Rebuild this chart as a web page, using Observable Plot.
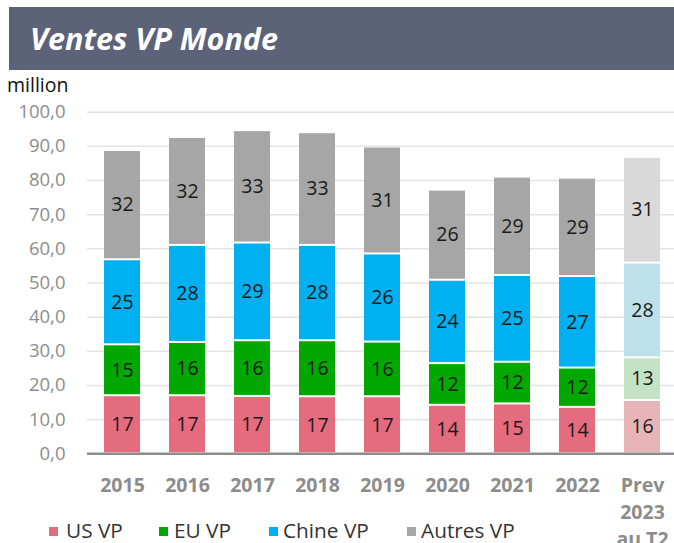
<!DOCTYPE html>
<html>
<head>
<meta charset="utf-8">
<script src="https://cdn.jsdelivr.net/npm/d3@7"></script>
<script src="https://cdn.jsdelivr.net/npm/@observablehq/plot@0.6"></script>
<style>
  body { margin: 0; background: #fff; width: 674px; height: 543px; overflow: hidden; position: relative; font-family: "Open Sans", sans-serif; }
  #title { position: absolute; left: 9px; top: 7px; right: 0; height: 63px; background: #5c6378; }
  #title span { position: absolute; left: 21px; top: 10px; color: #fff; font-weight: 700; font-style: italic; font-size: 30.5px; line-height: normal; white-space: nowrap; }
  #unit { position: absolute; left: 7px; top: 71px; font-size: 19.5px; color: #111; line-height: normal; }
  #chart { position: absolute; left: 0; top: 0; }
  .leg { position: absolute; top: 516px; font-size: 20.8px; color: #333; line-height: normal; white-space: nowrap; }
  .sw { position: absolute; top: 527px; width: 9px; height: 9px; }
</style>
</head>
<body>
<div id="title"><span>Ventes VP Monde</span></div>
<div id="unit">million</div>
<div id="chart"></div>
<div id="legend"></div>
<script>
const years = ["2015", "2016", "2017", "2018", "2019", "2020", "2021", "2022", "Prev\n2023\nau T2"];
const seriesNames = ["US VP", "EU VP", "Chine VP", "Autres VP"];
const usVP     = [17.0, 17.0, 16.8, 16.7, 16.7, 14.2, 14.6, 13.6, 15.6];
const euVP     = [14.9, 15.6, 16.3, 16.4, 16.0, 12.2, 12.2, 11.5, 12.5];
const chineVP  = [24.9, 28.4, 28.6, 27.9, 25.8, 24.4, 25.4, 26.8, 27.7];
const autresVP = [32.0, 31.6, 32.9, 33.0, 31.3, 26.4, 28.8, 28.8, 31.0];
const yTicks = [0, 10, 20, 30, 40, 50, 60, 70, 80, 90, 100];

const colors     = ["#e46c7e", "#00a800", "#00b0f0", "#a6a6a6"];
const colorsPrev = ["#e8b4b8", "#c4e3c4", "#bee0ea", "#d9d9d9"];

const seriesValues = [usVP, euVP, chineVP, autresVP];
const rows = [];
years.forEach((yr, i) => {
  seriesValues.forEach((arr, s) => {
    rows.push({ year: yr, series: seriesNames[s], value: arr[i],
      fill: (i === years.length - 1 ? colorsPrev : colors)[s] });
  });
});

const chart = Plot.plot({
  width: 674,
  height: 543,
  marginTop: 111.7,
  marginBottom: 89.7,
  marginLeft: 87,
  marginRight: 0,
  style: { fontFamily: "'Open Sans', sans-serif", background: "transparent", overflow: "visible" },
  x: { domain: years, range: [86.6, 678.6], paddingInner: 0.44, paddingOuter: 0.22, align: 0.5 },
  y: { domain: [0, 100] },
  color: { type: "identity" },
  marks: [
    Plot.gridY(yTicks, { stroke: "#e3e3e3", strokeOpacity: 1, strokeWidth: 1.5 }),
    Plot.barY(rows, Plot.stackY({ x: "year", y: "value", z: "series", order: seriesNames, fill: "fill", insetTop: 1, insetBottom: 1 })),
    Plot.text(rows, Plot.stackY({ x: "year", y: "value", z: "series", order: seriesNames,
      text: d => String(Math.round(d.value)), fill: "#1a1a1a", fontSize: 19.5 })),
    Plot.ruleY([0], { stroke: "#8c8c8c", strokeWidth: 2.5 }),
    Plot.axisY(yTicks, { tickSize: 0, tickPadding: 22, tickFormat: d => d.toFixed(1).replace(".", ","),
      fontSize: 18.5, color: "#8c8c8c", label: null }),
    Plot.axisX({ tickSize: 0, tickPadding: 19, fontSize: 19.5, fontWeight: 700, color: "#8c8c8c",
      lineHeight: 1.38, label: null })
  ]
});
document.getElementById("chart").appendChild(chart);

// legend
const legendSwatchX = [49, 159, 269, 407];
const legendTextX = [66, 174, 283, 421];
const legend = document.getElementById("legend");
seriesNames.forEach((name, i) => {
  const sw = document.createElement("div");
  sw.className = "sw";
  sw.style.left = legendSwatchX[i] + "px";
  sw.style.background = colors[i];
  legend.appendChild(sw);
  const t = document.createElement("div");
  t.className = "leg";
  t.style.left = legendTextX[i] + "px";
  t.textContent = name;
  legend.appendChild(t);
});
</script>
</body>
</html>
